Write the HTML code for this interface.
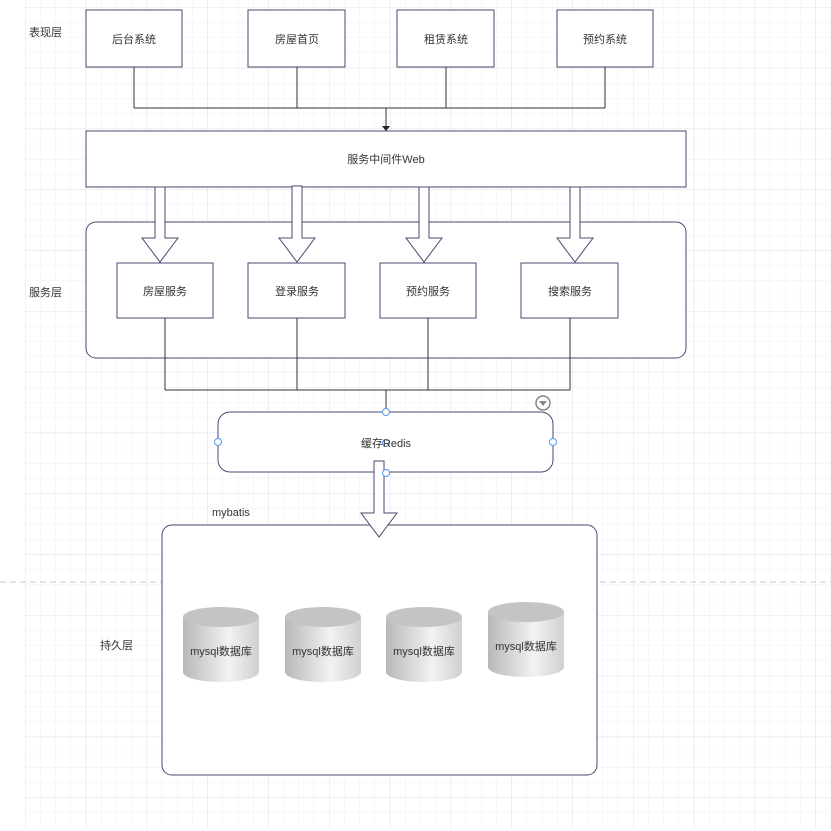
<!DOCTYPE html>
<html><head><meta charset="utf-8"><style>
body{margin:0;width:831px;height:831px;overflow:hidden;background:#fff;font-family:"Liberation Sans","Noto Sans CJK SC",sans-serif;}
svg{display:block}
text{font-family:"Liberation Sans","Noto Sans CJK SC",sans-serif;font-size:11px;fill:#333;}
</style></head><body>
<svg width="831" height="831" viewBox="0 0 831 831">
<defs>
<pattern id="minor" x="25" y="7" width="15.2" height="15.2" patternUnits="userSpaceOnUse"><path d="M0 0H15.2M0 0V15.2" stroke="#efefef" stroke-width="1" fill="none"/></pattern>
<pattern id="major" x="25" y="7" width="60.8" height="60.8" patternUnits="userSpaceOnUse"><path d="M0 0H60.8M0 0V60.8" stroke="#e2e2e2" stroke-width="1" fill="none"/></pattern>
<linearGradient id="cyl" x1="0" x2="1" y1="0" y2="0"><stop offset="0" stop-color="#b8b8b8"/><stop offset="0.6" stop-color="#f2f2f2"/><stop offset="1" stop-color="#d0d0d0"/></linearGradient>
</defs>
<rect x="25" y="0" width="806" height="828" fill="url(#minor)"/>
<rect x="25" y="0" width="806" height="828" fill="url(#major)"/>
<line x1="0" y1="582" x2="831" y2="582" stroke="#ccc" stroke-dasharray="6,4"/>
<g fill="#fff" stroke="#4a4a70" stroke-width="1">
<rect x="86" y="10" width="96" height="57"/><rect x="248" y="10" width="97" height="57"/>
<rect x="397" y="10" width="97" height="57"/><rect x="557" y="10" width="96" height="57"/>
<rect x="86" y="131" width="600" height="56"/>
<rect x="86" y="222" width="600" height="136" rx="10"/>
<rect x="117" y="263" width="96" height="55"/><rect x="248" y="263" width="97" height="55"/>
<rect x="380" y="263" width="96" height="55"/><rect x="521" y="263" width="97" height="55"/>
<rect x="218" y="412" width="335" height="60" rx="12"/>
<rect x="162" y="525" width="435" height="250" rx="10"/>
</g>
<g stroke="#333" fill="none">
<path d="M134 67V108M297 67V108M446 67V108M605 67V108M134 108H605M386 108V128"/>
<path d="M165 318V390M297 318V390M428 318V390M570 318V390M165 390H570M386 390V410"/>
</g>
<path d="M382 126L386 131L390 126Z" fill="#222"/>
<g fill="#fff" stroke="#4a4a70">
<path d="M155 187H165V238H178L160 262L142 238H155Z"/>
<path d="M292 186H302V238H315L297 262L279 238H292Z"/>
<path d="M419 187H429V238H442L424 262L406 238H419Z"/>
<path d="M570 187H580V238H593L575 262L557 238H570Z"/>
<path d="M374 461H384V513H397L379 537L361 513H374Z"/>
</g>
<g fill="#fff" stroke="#5599ee">
<circle cx="386" cy="412" r="3.5"/><circle cx="218" cy="442" r="3.5"/><circle cx="553" cy="442" r="3.5"/><circle cx="386" cy="473" r="3.5"/><circle cx="386" cy="443" r="3.5"/>
</g>
<circle cx="543" cy="403" r="7" fill="#fff" stroke="#888" stroke-width="1.5"/>
<path d="M539 401H547L543 406Z" fill="#888"/>
<g text-anchor="middle">
<text x="134" y="43">后台系统</text><text x="297" y="43">房屋首页</text><text x="446" y="43">租赁系统</text><text x="605" y="43">预约系统</text>
<text x="386" y="163">服务中间件Web</text>
<text x="165" y="295">房屋服务</text><text x="297" y="295">登录服务</text><text x="428" y="295">预约服务</text><text x="570" y="295">搜索服务</text>
<text x="386" y="447">缓存Redis</text>
</g>
<text x="29" y="36">表现层</text><text x="29" y="296">服务层</text><text x="100" y="649">持久层</text>
<text x="212" y="516">mybatis</text>
<g>
<g transform="translate(183,607)"><path d="M0 10V65A38 10 0 0 0 76 65V10Z" fill="url(#cyl)"/><ellipse cx="38" cy="10" rx="38" ry="10" fill="#c4c4c4"/><text x="38" y="48" text-anchor="middle">mysql数据库</text></g>
<g transform="translate(285,607)"><path d="M0 10V65A38 10 0 0 0 76 65V10Z" fill="url(#cyl)"/><ellipse cx="38" cy="10" rx="38" ry="10" fill="#c4c4c4"/><text x="38" y="48" text-anchor="middle">mysql数据库</text></g>
<g transform="translate(386,607)"><path d="M0 10V65A38 10 0 0 0 76 65V10Z" fill="url(#cyl)"/><ellipse cx="38" cy="10" rx="38" ry="10" fill="#c4c4c4"/><text x="38" y="48" text-anchor="middle">mysql数据库</text></g>
<g transform="translate(488,602)"><path d="M0 10V65A38 10 0 0 0 76 65V10Z" fill="url(#cyl)"/><ellipse cx="38" cy="10" rx="38" ry="10" fill="#c4c4c4"/><text x="38" y="48" text-anchor="middle">mysql数据库</text></g>
</g>
</svg>
</body></html>
